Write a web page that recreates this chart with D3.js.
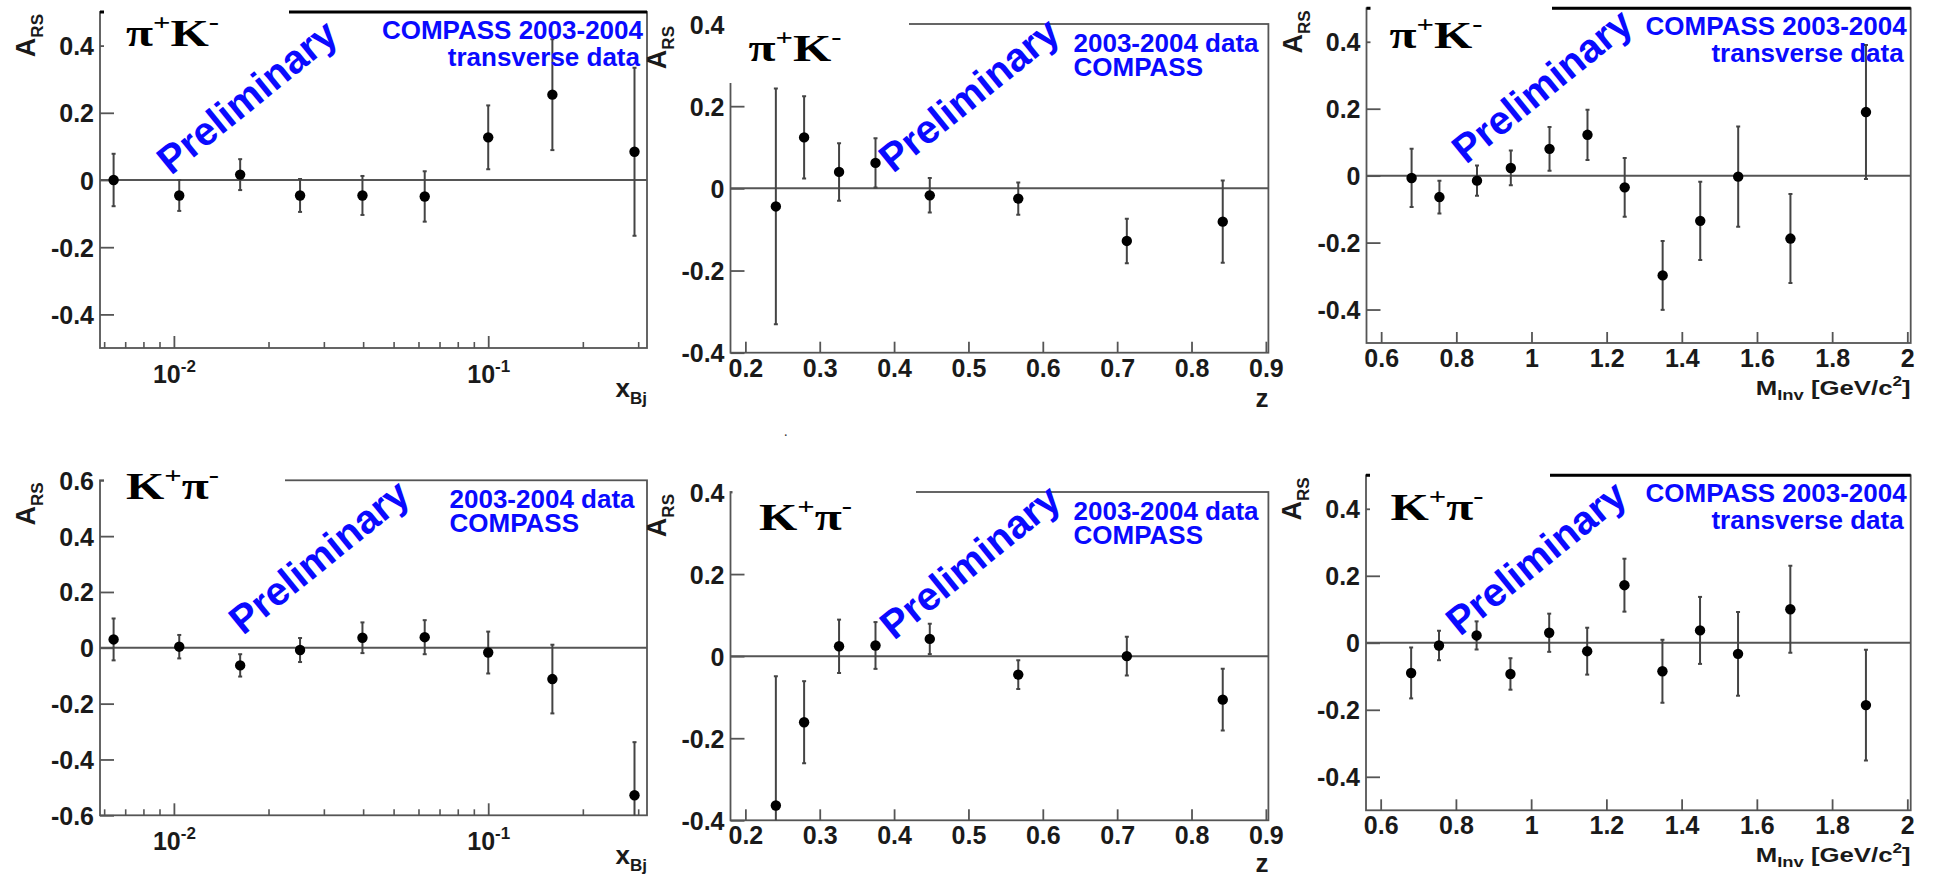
<!DOCTYPE html>
<html>
<head>
<meta charset="utf-8">
<script src="https://cdn.jsdelivr.net/npm/d3@7"></script>
<style>
  html, body { margin: 0; padding: 0; background: #fff; }
  svg { display: block; }
</style>
</head>
<body>
<svg id="chart" width="1936" height="877"></svg>
<script>
// ---------------- data ----------------
const xbjBins = [0.00643, 0.0104, 0.01625, 0.0252, 0.0398, 0.0628, 0.100, 0.160, 0.292];
const piK_xbj = [0.000, -0.046, 0.016, -0.046, -0.046, -0.049, 0.127, 0.254, 0.084];
const piK_xbj_err = [0.078, 0.046, 0.046, 0.049, 0.058, 0.075, 0.095, 0.165, 0.250];
const Kpi_xbj = [0.030, 0.004, -0.063, -0.008, 0.036, 0.038, -0.017, -0.112, -0.528];
const Kpi_xbj_err = [0.075, 0.042, 0.040, 0.043, 0.055, 0.061, 0.075, 0.123, 0.190];

const zBins = [0.241, 0.279, 0.326, 0.375, 0.448, 0.567, 0.713, 0.842];
const piK_z = [-0.044, 0.124, 0.040, 0.062, -0.017, -0.025, -0.128, -0.081];
const piK_z_err = [0.287, 0.100, 0.070, 0.060, 0.042, 0.039, 0.054, 0.100];
const Kpi_z = [-0.364, -0.161, 0.024, 0.026, 0.042, -0.045, 0.000, -0.106];
const Kpi_z_err = [0.315, 0.100, 0.065, 0.057, 0.037, 0.035, 0.047, 0.075];

const mBins = [0.681, 0.755, 0.855, 0.945, 1.048, 1.149, 1.248, 1.349, 1.449, 1.550, 1.689, 1.890];
const piK_m = [-0.007, -0.064, -0.015, 0.023, 0.080, 0.122, -0.035, -0.298, -0.135, -0.003, -0.188, 0.190];
const piK_m_err = [0.087, 0.049, 0.045, 0.052, 0.065, 0.075, 0.088, 0.103, 0.117, 0.150, 0.133, 0.200];
const Kpi_m = [-0.090, -0.008, 0.022, -0.093, 0.030, -0.025, 0.172, -0.085, 0.037, -0.033, 0.100, -0.186];
const Kpi_m_err = [0.076, 0.044, 0.042, 0.047, 0.057, 0.070, 0.079, 0.094, 0.100, 0.125, 0.130, 0.165];

// axis ranges and tick labels
const xbjDomain = [0.00582, 0.32];
const zDomain = [0.18, 0.9034];
const mDomain = [0.561, 2.009];
const xbjMajorTicks = [0.01, 0.1];
const xbjMajorLabels = [["10", "-2"], ["10", "-1"]];
const xbjMinorTicks = [0.006, 0.007, 0.008, 0.009, 0.02, 0.03, 0.04, 0.05, 0.06, 0.07, 0.08, 0.09, 0.2, 0.3];
const zTicks = [0.2, 0.3, 0.4, 0.5, 0.6, 0.7, 0.8, 0.9];
const mTicks = [0.6, 0.8, 1.0, 1.2, 1.4, 1.6, 1.8, 2.0];
const yTicks5 = [-0.4, -0.2, 0, 0.2, 0.4];
const yTicks6 = [-0.6, -0.4, -0.2, 0, 0.2, 0.4, 0.6];

const titlePiK = ["π", "+", "K", "-"];
const titleKpi = ["K", "+", "π", "-"];
const labelTransverse = ["COMPASS 2003-2004", "transverse data"];
const labelData = ["2003-2004 data", "COMPASS"];
const watermark = "Preliminary";

// ---------------- layout ----------------
const SANS = "'Liberation Sans', Arial, Helvetica, sans-serif";
const SERIF = "'Liberation Serif', 'Times New Roman', Times, serif";
const panels = [
  { f: {l:100,   r:647,    t:12,    b:348},   kind:"xbj", y:[-0.5,0.5], yt:yTicks5, xs:xbjBins, v:piK_xbj, e:piK_xbj_err,
    title:titlePiK, tpos:[26,34], label:labelTransverse, lalign:"right", box:{x0:4, x1:289, y1:60}, topDark:true,
    prel:[171,176] },
  { f: {l:730.5, r:1268.4, t:24,    b:352.7}, kind:"z",   y:[-0.4,0.4], yt:yTicks5, xs:zBins, v:piK_z, e:piK_z_err,
    title:titlePiK, tpos:[18,37], label:labelData, lalign:"left", lx:343, box:{x0:-2, x1:909, y1:83}, topDark:false,
    prel:[893,174] },
  { f: {l:1366.5,r:1910.7, t:8.3,   b:343},   kind:"m",   y:[-0.5,0.5], yt:yTicks5, xs:mBins, v:piK_m, e:piK_m_err,
    title:titlePiK, tpos:[23,40], label:labelTransverse, lalign:"right", box:{x0:4, x1:1552, y1:58}, topDark:true,
    prel:[1466,165] },
  { f: {l:100,   r:647,    t:480.3, b:815.3}, kind:"xbj", y:[-0.6,0.6], yt:yTicks6, xs:xbjBins, v:Kpi_xbj, e:Kpi_xbj_err,
    title:titleKpi, tpos:[26,18.4], label:labelData, lalign:"left", lx:349.5, box:{x0:4, x1:285, y1:532}, topDark:false,
    prel:[243,636] },
  { f: {l:730.5, r:1268.4, t:492,   b:820.3}, kind:"z",   y:[-0.4,0.4], yt:yTicks5, xs:zBins, v:Kpi_z, e:Kpi_z_err,
    title:titleKpi, tpos:[28.5,38], label:labelData, lalign:"left", lx:343, box:{x0:2, x1:916, y1:545}, topDark:false,
    prel:[894,641] },
  { f: {l:1366,  r:1910.7, t:475.3, b:810.3}, kind:"m",   y:[-0.5,0.5], yt:yTicks5, xs:mBins, v:Kpi_m, e:Kpi_m_err,
    title:titleKpi, tpos:[24.5,44.7], label:labelTransverse, lalign:"right", box:{x0:4, x1:1550, y1:530}, topDark:true,
    prel:[1460,637] },
];

const FRAME = "#555";
const TXT = "#1a1a1a";
const BLUE = "#0a0aff";
const PREL_ROT = 39;
const svg = d3.select("#chart");
const defs = svg.append("defs");

function sans(sel, size) {
  return sel.style("font-family", SANS).style("font-weight", "bold").attr("font-size", size);
}

panels.forEach((p, i) => {
  const f = p.f;
  const g = svg.append("g");
  let x;
  if (p.kind === "xbj") x = d3.scaleLog().domain(xbjDomain).range([f.l, f.r]);
  else if (p.kind === "z") x = d3.scaleLinear().domain(zDomain).range([f.l, f.r]);
  else x = d3.scaleLinear().domain(mDomain).range([f.l, f.r]);
  const y = d3.scaleLinear().domain(p.y).range([f.b, f.t]);

  // frame
  g.append("rect").attr("x", f.l).attr("y", f.t).attr("width", f.r - f.l).attr("height", f.b - f.t)
    .attr("fill", "none").attr("stroke", FRAME).attr("stroke-width", 1.8);
  if (p.topDark) {
    g.append("line").attr("x1", f.l).attr("x2", f.r).attr("y1", f.t).attr("y2", f.t)
      .attr("stroke", "#000").attr("stroke-width", 3);
  }

  // y axis
  const ya = g.append("g").attr("transform", `translate(${f.l},0)`)
    .call(d3.axisLeft(y).tickValues(p.yt).tickSize(-14).tickPadding(6)
      .tickFormat(v => Math.abs(v) < 1e-9 ? "0" : String(+v.toFixed(1))));
  ya.select(".domain").remove();
  ya.selectAll(".tick line").attr("stroke", FRAME).attr("stroke-width", 1.8);
  sans(ya.selectAll(".tick text"), 25).attr("fill", TXT).attr("dy", "0.36em");

  // x axis
  if (p.kind === "xbj") {
    const xmin = g.append("g").attr("transform", `translate(0,${f.b})`)
      .call(d3.axisBottom(x).tickValues(xbjMinorTicks).tickSize(-6).tickFormat(""));
    xmin.select(".domain").remove();
    xmin.selectAll(".tick line").attr("stroke", FRAME).attr("stroke-width", 1.6);
    const xmaj = g.append("g").attr("transform", `translate(0,${f.b})`)
      .call(d3.axisBottom(x).tickValues(xbjMajorTicks).tickSize(-12).tickFormat(""));
    xmaj.select(".domain").remove();
    xmaj.selectAll(".tick line").attr("stroke", FRAME).attr("stroke-width", 1.8);
    xmaj.selectAll(".tick").each(function(d, k) {
      const t = sans(d3.select(this).append("text"), 25).attr("y", 35).attr("text-anchor", "middle")
        .attr("fill", TXT);
      t.append("tspan").text(xbjMajorLabels[k][0]);
      t.append("tspan").attr("font-size", 17).attr("dy", -11).text(xbjMajorLabels[k][1]);
    });
  } else {
    const ticks = p.kind === "z" ? zTicks : mTicks;
    const xa = g.append("g").attr("transform", `translate(0,${f.b})`)
      .call(d3.axisBottom(x).tickValues(ticks).tickSize(-11).tickPadding(0)
        .tickFormat(v => String(+v.toFixed(1))));
    xa.select(".domain").remove();
    xa.selectAll(".tick line").attr("stroke", FRAME).attr("stroke-width", 1.8);
    sans(xa.selectAll(".tick text"), 25).attr("fill", TXT).attr("y", 24).attr("dy", null);
  }

  // zero line
  g.append("line").attr("x1", f.l).attr("x2", f.r).attr("y1", y(0)).attr("y2", y(0))
    .attr("stroke", "#555").attr("stroke-width", 2);

  // data
  const clipId = "clip" + i;
  defs.append("clipPath").attr("id", clipId).append("rect")
    .attr("x", f.l).attr("y", f.t).attr("width", f.r - f.l).attr("height", f.b - f.t);
  const pts = p.xs.map((xv, k) => ({ x: xv, v: p.v[k], e: p.e[k] }));
  const dg = g.append("g").attr("clip-path", `url(#${clipId})`);
  dg.selectAll("line.err").data(pts).join("line").attr("class", "err")
    .attr("x1", d => x(d.x)).attr("x2", d => x(d.x))
    .attr("y1", d => y(d.v + d.e)).attr("y2", d => y(d.v - d.e))
    .attr("stroke", "#444").attr("stroke-width", 2);
  dg.selectAll("line.capt").data(pts).join("line").attr("class", "capt")
    .attr("x1", d => x(d.x) - 2).attr("x2", d => x(d.x) + 2)
    .attr("y1", d => y(d.v + d.e)).attr("y2", d => y(d.v + d.e))
    .attr("stroke", "#444").attr("stroke-width", 2);
  dg.selectAll("line.capb").data(pts).join("line").attr("class", "capb")
    .attr("x1", d => x(d.x) - 2).attr("x2", d => x(d.x) + 2)
    .attr("y1", d => y(d.v - d.e)).attr("y2", d => y(d.v - d.e))
    .attr("stroke", "#444").attr("stroke-width", 2);
  dg.selectAll("circle").data(pts).join("circle")
    .attr("cx", d => x(d.x)).attr("cy", d => y(d.v)).attr("r", 5.2).attr("fill", "#000");

  // white box behind the title (covers the top-left corner of the frame)
  const by0 = Math.max(0, f.t - 14);
  g.append("rect").attr("x", f.l + p.box.x0).attr("y", by0)
    .attr("width", p.box.x1 - (f.l + p.box.x0)).attr("height", p.box.y1 - by0)
    .attr("fill", "#fff");

  // title (stretched horizontally, as in the original)
  const tt = g.append("text").attr("x", f.l + p.tpos[0]).attr("y", f.t + p.tpos[1])
    .style("font-family", SERIF).style("font-weight", "bold")
    .attr("font-size", 37).attr("fill", "#000")
    .attr("textLength", 93).attr("lengthAdjust", "spacingAndGlyphs");
  tt.append("tspan").text(p.title[0]);
  tt.append("tspan").attr("font-size", 23).attr("dy", -16).text(p.title[1]);
  tt.append("tspan").attr("dy", 16).text(p.title[2]);
  tt.append("tspan").attr("font-size", 23).attr("dy", -16).text(p.title[3]);

  // Preliminary watermark
  sans(g.append("text"), 40).attr("transform", `translate(${p.prel[0]},${p.prel[1]}) rotate(${-PREL_ROT})`)
    .attr("fill", BLUE).text(watermark);

  // blue label
  const lb = g.append("g").attr("fill", BLUE);
  if (p.lalign === "right") {
    p.label.forEach((s, k) => sans(lb.append("text"), 26).attr("x", f.r - 4 - k * 3).attr("y", f.t + 27 + k * 26.5)
      .attr("text-anchor", "end").text(s));
  } else {
    p.label.forEach((s, k) => sans(lb.append("text"), 26).attr("x", f.l + p.lx).attr("y", f.t + 28 + k * 23.5)
      .attr("text-anchor", "start").text(s));
  }

  // y axis title A_RS
  const yt = sans(g.append("text"), 27).attr("transform", `translate(${f.l - 65},${f.t + 2}) rotate(-90)`)
    .attr("text-anchor", "end").attr("fill", TXT);
  yt.append("tspan").text("A");
  yt.append("tspan").attr("font-size", 17).attr("dy", 8).text("RS");

  // x axis title
  if (p.kind === "xbj") {
    const xt = sans(g.append("text"), 26).attr("x", f.r).attr("y", f.b + 49).attr("text-anchor", "end")
      .attr("fill", TXT);
    xt.append("tspan").text("x");
    xt.append("tspan").attr("font-size", 17).attr("dy", 7).text("Bj");
  } else if (p.kind === "z") {
    sans(g.append("text"), 26).attr("x", f.r).attr("y", Math.min(f.b + 54, 872)).attr("text-anchor", "end")
      .attr("fill", TXT).text("z");
  } else {
    const xt = sans(g.append("text"), 21).attr("x", f.r - 155).attr("y", f.b + 52)
      .attr("fill", TXT)
      .attr("textLength", 155).attr("lengthAdjust", "spacingAndGlyphs");
    xt.append("tspan").text("M");
    xt.append("tspan").attr("font-size", 15).attr("dy", 5).text("Inv");
    xt.append("tspan").attr("dy", -5).text(" [GeV/c");
    xt.append("tspan").attr("font-size", 14).attr("dy", -9).text("2");
    xt.append("tspan").attr("dy", 9).text("]");
  }
});

// stray dot present in the original image
svg.append("text").attr("x", 784).attr("y", 436).attr("font-size", 14).attr("fill", "#333").text(".");
</script>
</body>
</html>
